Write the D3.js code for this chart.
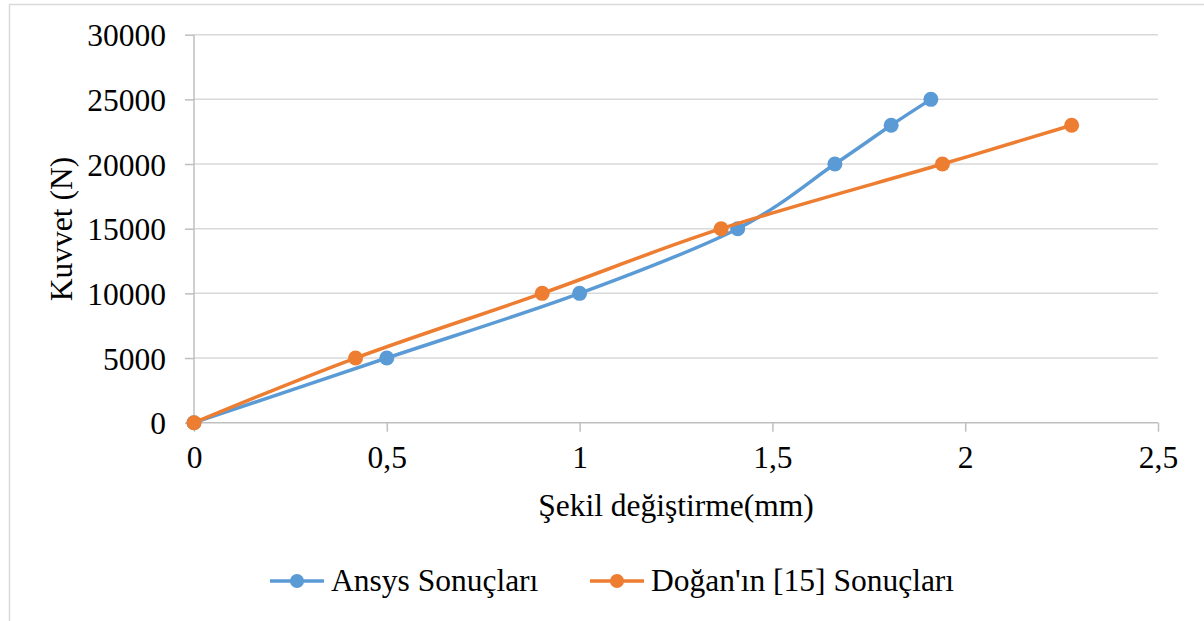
<!DOCTYPE html>
<html><head><meta charset="utf-8">
<script src="https://cdn.jsdelivr.net/npm/d3@7"></script>
<style>
html,body{margin:0;padding:0;background:#fff;}
text{font-family:"Liberation Serif","Times New Roman",serif;fill:#000;}
</style></head>
<body>
<script>
const seriesNames = ["Ansys Sonuçları", "Doğan'ın [15] Sonuçları"];
const ansysX = [0, 0.5, 1.0, 1.41, 1.662, 1.808, 1.911];
const ansysY = [0, 5000, 10000, 15000, 20000, 23000, 25000];
const doganX = [0, 0.419, 0.903, 1.367, 1.941, 2.276];
const doganY = [0, 5000, 10000, 15000, 20000, 23000];
const xTicks = [0, 0.5, 1, 1.5, 2, 2.5];
const yTicks = [0, 5000, 10000, 15000, 20000, 25000, 30000];
const xTitle = "Şekil değiştirme(mm)";
const yTitle = "Kuvvet (N)";
const colors = ["#5B9BD5", "#ED7D31"];

const W = 1204, H = 621;
const svg = d3.select("body").append("svg").attr("width", W).attr("height", H);
svg.append("rect").attr("x", 9.5).attr("y", 4.5).attr("width", W).attr("height", H)
  .attr("fill", "#fff").attr("stroke", "#D9D9D9").attr("stroke-width", 1.5);

const x = d3.scaleLinear().domain([0, 2.5]).range([194, 1158]);
const y = d3.scaleLinear().domain([0, 30000]).range([422.7, 34.7]);
const fs = 31.5;

// gridlines
svg.append("g").selectAll("line").data(yTicks.filter(d => d > 0)).join("line")
  .attr("x1", x(0)).attr("x2", x(2.5)).attr("y1", d => y(d)).attr("y2", d => y(d))
  .attr("stroke", "#D9D9D9").attr("stroke-width", 1.5);

// axes
const yAxis = d3.axisLeft(y).tickValues(yTicks).tickSize(9).tickPadding(19).tickFormat(d3.format("d"));
const gy = svg.append("g").attr("transform", `translate(${x(0)},0)`).call(yAxis);
gy.select(".domain").remove();
gy.selectAll(".tick line").attr("stroke", "#BFBFBF").attr("stroke-width", 1.5);
gy.selectAll(".tick text").attr("font-size", fs).attr("font-family", "Liberation Serif").attr("fill", "#000").attr("dy", "0.35em");
svg.append("line").attr("x1", x(0)).attr("x2", x(0)).attr("y1", y(0)).attr("y2", y(30000))
  .attr("stroke", "#BFBFBF").attr("stroke-width", 1.5);

const xAxis = d3.axisBottom(x).tickValues(xTicks).tickSize(9).tickPadding(14)
  .tickFormat(d => String(d).replace(".", ","));
const gx = svg.append("g").attr("transform", `translate(0,${y(0)})`).call(xAxis);
gx.select(".domain").remove();
gx.selectAll(".tick line").attr("stroke", "#BFBFBF").attr("stroke-width", 1.5);
gx.selectAll(".tick text").attr("font-size", fs).attr("font-family", "Liberation Serif").attr("fill", "#000").attr("dy", "0.71em");
svg.append("line").attr("x1", x(0)).attr("x2", x(2.5)).attr("y1", y(0)).attr("y2", y(0))
  .attr("stroke", "#BFBFBF").attr("stroke-width", 1.5);

// titles
svg.append("text").attr("x", 676).attr("y", 516).attr("text-anchor", "middle")
  .attr("font-size", fs).text(xTitle);
svg.append("text").attr("transform", "translate(72,229) rotate(-90)").attr("text-anchor", "middle")
  .attr("font-size", fs).text(yTitle);

// series
const series = [
  {name: seriesNames[0], xs: ansysX, ys: ansysY, color: colors[0]},
  {name: seriesNames[1], xs: doganX, ys: doganY, color: colors[1]}
];
const line = d3.line().x(d => x(d[0])).y(d => y(d[1])).curve(d3.curveCardinal.tension(0));
series.forEach(s => {
  const pts = s.xs.map((v, i) => [v, s.ys[i]]);
  svg.append("path").datum(pts).attr("d", line).attr("fill", "none")
    .attr("stroke", s.color).attr("stroke-width", 3.5).attr("stroke-linejoin", "round");
  svg.append("g").selectAll("circle").data(pts).join("circle")
    .attr("cx", d => x(d[0])).attr("cy", d => y(d[1])).attr("r", 7.5).attr("fill", s.color);
});

// legend
const legX = [270, 590];
series.forEach((s, i) => {
  const g = svg.append("g").attr("transform", `translate(${legX[i]},581)`);
  g.append("line").attr("x1", 0).attr("x2", 54).attr("y1", 0).attr("y2", 0)
    .attr("stroke", s.color).attr("stroke-width", 3.5);
  g.append("circle").attr("cx", 27).attr("cy", 0).attr("r", 7).attr("fill", s.color);
  g.append("text").attr("x", 61).attr("y", 9.5).attr("font-size", fs).text(s.name);
});
</script>
</body></html>
